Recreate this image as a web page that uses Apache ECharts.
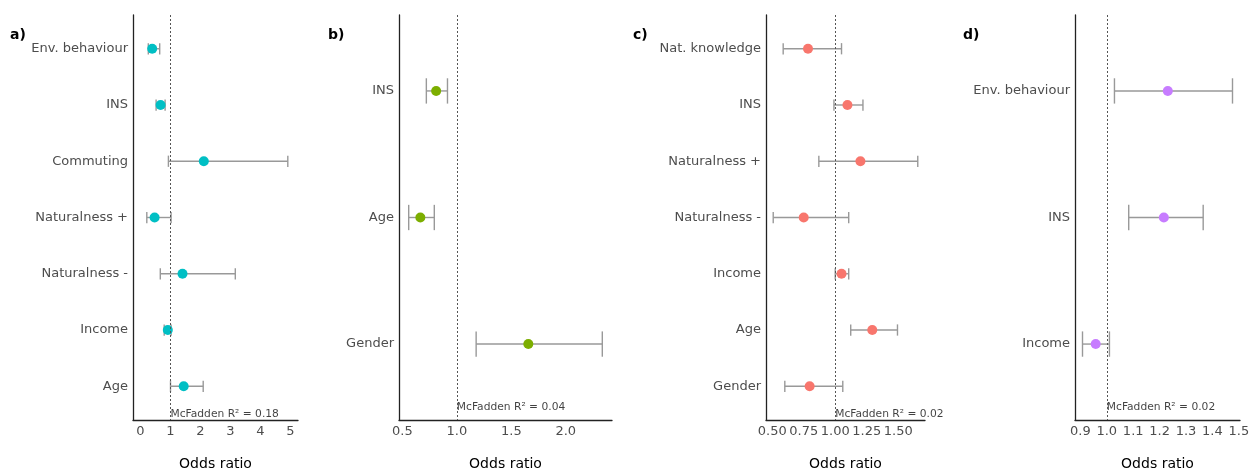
<!DOCTYPE html>
<html>
<head>
<meta charset="utf-8">
<script src="https://cdn.jsdelivr.net/npm/echarts@6/dist/echarts.min.js"></script>
<style>
html,body{margin:0;padding:0;background:#fff;}
#chart{width:1255px;height:472px;}
</style>
</head>
<body>
<div id="chart"></div>
<script>
// ---- data ----
const aNames = ['Env. behaviour','INS','Commuting','Naturalness +','Naturalness -','Income','Age'];
const aEst = [0.39, 0.67, 2.11, 0.47, 1.40, 0.91, 1.44];
const aLo  = [0.26, 0.52, 0.93, 0.21, 0.66, 0.79, 1.00];
const aHi  = [0.64, 0.82, 4.91, 1.02, 3.16, 1.02, 2.09];

const bNames = ['INS','Age','Gender'];
const bEst = [0.81, 0.665, 1.656];
const bLo  = [0.72, 0.558, 1.177];
const bHi  = [0.914, 0.793, 2.335];

const cNames = ['Nat. knowledge','INS','Naturalness +','Naturalness -','Income','Age','Gender'];
const cEst = [0.784, 1.097, 1.20, 0.75, 1.05, 1.294, 0.797];
const cLo  = [0.587, 0.99, 0.87, 0.508, 1.00, 1.123, 0.60];
const cHi  = [1.05, 1.22, 1.655, 1.107, 1.107, 1.494, 1.06];

const dNames = ['Env. behaviour','INS','Income'];
const dEst = [1.231, 1.216, 0.958];
const dLo  = [1.029, 1.083, 0.908];
const dHi  = [1.476, 1.365, 1.01];

const panelLabels = ['a)','b)','c)','d)'];
const r2Values = ['0.18','0.04','0.02','0.02'];
const aTicks = [0,1,2,3,4,5];
const bTicks = [0.5,1.0,1.5,2.0];
const cTicks = [0.5,0.75,1.0,1.25,1.5];
const dTicks = [0.9,1.0,1.1,1.2,1.3,1.4,1.5];

// ---- styling / layout ----
const FONT = 'DejaVu Sans';
const panels = [
  {names:aNames, est:aEst, lo:aLo, hi:aHi, ticks:aTicks, dec:0, color:'#00BFC4', grid:{left:133, width:165}, min:-0.25, max:5.25, labelX:10},
  {names:bNames, est:bEst, lo:bLo, hi:bHi, ticks:bTicks, dec:1, color:'#7CAE00', grid:{left:399, width:213}, min:0.469, max:2.424, labelX:328},
  {names:cNames, est:cEst, lo:cLo, hi:cHi, ticks:cTicks, dec:2, color:'#F8766D', grid:{left:766, width:159}, min:0.4507, max:1.7124, labelX:633},
  {names:dNames, est:dEst, lo:dLo, hi:dHi, ticks:dTicks, dec:1, color:'#C77CFF', grid:{left:1075, width:165}, min:0.8796, max:1.5044, labelX:963}
];

const grids = [], xAxes = [], yAxes = [], series = [], titles = [];

function errRender(params, api){
  const y = api.value(0), lo = api.value(1), hi = api.value(2);
  const p1 = api.coord([lo, y]);
  const p2 = api.coord([hi, y]);
  const t = api.coord([lo, y - 0.1])[1];
  const b = api.coord([lo, y + 0.1])[1];
  const st = {stroke:'#999999', lineWidth:1.4};
  return {type:'group', children:[
    {type:'line', shape:{x1:p1[0], y1:p1[1], x2:p2[0], y2:p2[1]}, style:st},
    {type:'line', shape:{x1:p1[0], y1:t, x2:p1[0], y2:b}, style:st},
    {type:'line', shape:{x1:p2[0], y1:t, x2:p2[0], y2:b}, style:st}
  ]};
}

panels.forEach((p, i) => {
  const n = p.names.length;
  grids.push({left:p.grid.left, width:p.grid.width, top:15, height:405, containLabel:false, outerBoundsMode:'none'});
  xAxes.push({
    type:'value', gridIndex:i, min:p.min, max:p.max,
    name:'Odds ratio', nameLocation:'middle', nameGap:37,
    nameTextStyle:{fontFamily:FONT, fontSize:14, color:'#000'},
    axisLine:{show:true, onZero:false, lineStyle:{color:'#222', width:1.3}},
    axisTick:{show:false},
    splitLine:{show:false},
    axisLabel:{
      customValues:p.ticks, margin:5, fontFamily:FONT, fontSize:13, color:'#4D4D4D',
      formatter:(v)=>Number(v).toFixed(p.dec)
    }
  });
  yAxes.push({
    type:'value', gridIndex:i, min:-0.6, max:n-0.4, inverse:true,
    axisLine:{show:true, onZero:false, lineStyle:{color:'#222', width:1.3}},
    axisTick:{show:false},
    splitLine:{show:false},
    axisLabel:{
      customValues:p.names.map((_, k)=>k), margin:5, fontFamily:FONT, fontSize:13, color:'#4D4D4D',
      formatter:(v)=>p.names[Math.round(v)] || ''
    }
  });
  series.push({
    type:'custom', xAxisIndex:i, yAxisIndex:i, renderItem:errRender,
    encode:{x:[1,2], y:0},
    data:p.names.map((_, k)=>[k, p.lo[k], p.hi[k]]),
    silent:true, z:2
  });
  series.push({
    type:'scatter', xAxisIndex:i, yAxisIndex:i, symbol:'circle', symbolSize:10,
    itemStyle:{color:p.color, opacity:1},
    data:p.names.map((_, k)=>[p.est[k], k]),
    z:3, silent:true,
    markLine:{
      silent:true, symbol:'none', animation:false,
      label:{show:false},
      lineStyle:{type:[2,2], color:'#555', width:1},
      data:[{xAxis:1}]
    }
  });
  series.push({
    type:'scatter', xAxisIndex:i, yAxisIndex:i, symbolSize:0, silent:true, z:4,
    data:[[1, n-0.5]],
    label:{show:true, position:'right', distance:0, formatter:'McFadden R\u00B2 = ' + r2Values[i],
      fontFamily:FONT, fontSize:10.7, color:'#111'}
  });
  titles.push({text:panelLabels[i], left:p.labelX, top:28, padding:0,
    textStyle:{fontFamily:FONT, fontSize:14, fontWeight:'bold', color:'#000'}});
});

const chart = echarts.init(document.getElementById('chart'), null, {renderer:'canvas'});
chart.setOption({
  animation:false,
  backgroundColor:'#fff',
  title:titles,
  grid:grids,
  xAxis:xAxes,
  yAxis:yAxes,
  series:series
});
</script>
</body>
</html>
